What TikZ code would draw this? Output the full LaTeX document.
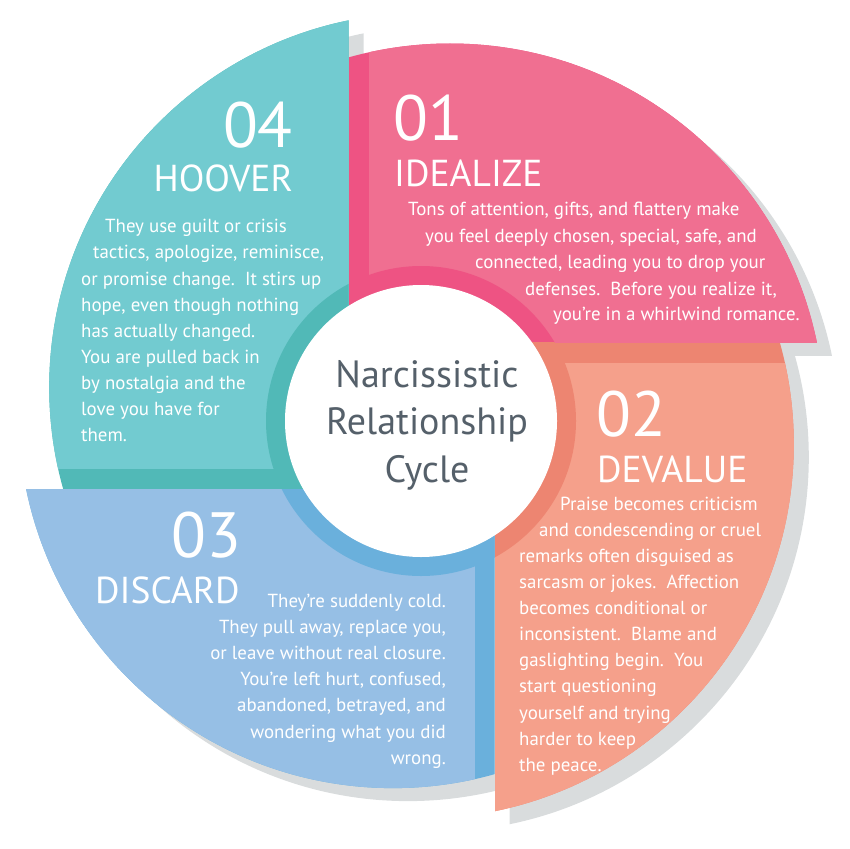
\documentclass[tikz,border=0pt]{standalone}
\usepackage{fontspec}
\setmainfont{PT Sans}
\usepackage{tikz}
\usepackage{color}
\usetikzlibrary{calc,positioning}

\definecolor{pinkL}{RGB}{240,111,145}
\definecolor{pinkD}{RGB}{238,83,131}
\definecolor{salL}{RGB}{245,160,139}
\definecolor{salD}{RGB}{237,133,113}
\definecolor{bluL}{RGB}{150,191,229}
\definecolor{bluD}{RGB}{106,176,220}
\definecolor{teaL}{RGB}{114,203,208}
\definecolor{teaD}{RGB}{81,185,183}
\definecolor{shad}{RGB}{217,220,221}
\definecolor{hub}{RGB}{85,96,106}

\begin{document}
\begin{tikzpicture}[x=1pt,y=-1pt]
		\tikzstyle{body}=[text=white, font=\fontsize{18.9}{22}\selectfont, inner sep=0pt, anchor=base west]
		\tikzstyle{bodyr}=[body, anchor=base east]
		\tikzstyle{num}=[text=white, font=\fontsize{64}{64}\selectfont, inner sep=0pt, anchor=base west]
		\tikzstyle{tit}=[text=white, font=\fontsize{37.5}{40}\selectfont, inner sep=0pt, anchor=base west]
		\tikzstyle{hubtxt}=[text=hub, font=\fontsize{38}{47.5}\selectfont, align=center, inner sep=0pt]

		\useasboundingbox (0,0) rectangle (850,848);
		\coordinate (C) at (421.5,415.8);
		\coordinate (W) at (421,421);

		% shadows
		\begin{scope}[shift={(15,13)}]
			\begin{scope}[rotate around={0:(421.5,415.8)}]
				\clip (348.5,342.8) rectangle (948.5,-257);
				\fill[shad] (450,418) circle (374.5);
			\end{scope}
			\begin{scope}[rotate around={-90:(421.5,415.8)}]
				\clip (348.5,342.8) rectangle (948.5,-257);
				\fill[shad] (450,418) circle (374.5);
			\end{scope}
			\begin{scope}[rotate around={-180:(421.5,415.8)}]
				\clip (348.5,342.8) rectangle (948.5,-257);
				\fill[shad] (450,418) circle (374.5);
			\end{scope}
			\begin{scope}[rotate around={-270:(421.5,415.8)}]
				\clip (348.5,342.8) rectangle (948.5,-257);
				\fill[shad] (450,418) circle (374.5);
			\end{scope}
		\end{scope}

		% 01 idealize
		\begin{scope}[rotate around={0:(C)}]
			\clip (348.5,342.8) rectangle (948.5,-257);
			\clip (450,418) circle (374.5);
			\fill[pinkD] (348.5,342.8) rectangle (948.5,-257);
			\fill[pinkL] (368.5,342.8) rectangle (948.5,-257);
			\fill[pinkD] (W) circle (155);
		\end{scope}
		% 02 devalue
		\begin{scope}[rotate around={-90:(C)}]
			\clip (348.5,342.8) rectangle (948.5,-257);
			\clip (450,418) circle (374.5);
			\fill[salD] (348.5,342.8) rectangle (948.5,-257);
			\fill[salL] (368.5,342.8) rectangle (948.5,-257);
			\fill[salD] (W) circle (155);
		\end{scope}
		% 03 discard
		\begin{scope}[rotate around={-180:(C)}]
			\clip (348.5,342.8) rectangle (948.5,-257);
			\clip (450,418) circle (374.5);
			\fill[bluD] (348.5,342.8) rectangle (948.5,-257);
			\fill[bluL] (368.5,342.8) rectangle (948.5,-257);
			\fill[bluD] (W) circle (155);
		\end{scope}
		% 04 hoover
		\begin{scope}[rotate around={-270:(C)}]
			\clip (348.5,342.8) rectangle (948.5,-257);
			\clip (450,418) circle (374.5);
			\fill[teaD] (348.5,342.8) rectangle (948.5,-257);
			\fill[teaL] (368.5,342.8) rectangle (948.5,-257);
			\fill[teaD] (W) circle (155);
		\end{scope}

		\fill[white] (W) circle (136);
		\node[hubtxt] (hub) at (427,425) {Narcissistic\\Relationship\\Cycle};

		% 01
		\node[num] (N1) at (393,140) {01};
		\node[tit] (T1) at (394,186) {IDEALIZE};
		\node[body] (p1) at (408,215) {Tons of attention, gifts, and flattery make};
		\node[body] (p2) at (425,242) {you feel deeply chosen, special, safe, and};
		\node[body] (p3) at (475,268) {connected, leading you to drop your};
		\node[body] (p4) at (525,295) {defenses.\ \ Before you realize it,};
		\node[body] (p5) at (553,320) {you’re in a whirlwind romance.};

		% 02
		\node[num] (N2) at (596,436) {02};
		\node[tit] (T2) at (597,482) {DEVALUE};
		\node[body] (s1) at (560,510) {Praise becomes criticism};
		\node[body] (s2) at (539,536) {and condescending or cruel};
		\node[body] (s3) at (519,562) {remarks often disguised as};
		\node[body] (s4) at (519,588) {sarcasm or jokes.\ \ Affection};
		\node[body] (s5) at (519,614) {becomes conditional or};
		\node[body] (s6) at (519,640) {inconsistent.\ \ Blame and};
		\node[body] (s7) at (519,666) {gaslighting begin.\ \ You};
		\node[body] (s8) at (519,692) {start questioning};
		\node[body] (s9) at (519,719) {yourself and trying};
		\node[body] (s10) at (519,745) {harder to keep};
		\node[body] (s11) at (519,771) {the peace.};

		% 03
		\node[num] (N3) at (171,557) {03};
		\node[tit] (T3) at (95,603) {DISCARD};
		\node[bodyr] (b1) at (446,607) {They’re suddenly cold.};
		\node[bodyr] (b2) at (446,633) {They pull away, replace you,};
		\node[bodyr] (b3) at (446,659) {or leave without real closure.};
		\node[bodyr] (b4) at (446,685) {You’re left hurt, confused,};
		\node[bodyr] (b5) at (446,711) {abandoned, betrayed, and};
		\node[bodyr] (b6) at (446,738) {wondering what you did};
		\node[bodyr] (b7) at (446,764) {wrong.};

		% 04
		\node[num, anchor=base east] (N4) at (293,147) {04};
		\node[tit, anchor=base east] (T4) at (293,191) {HOOVER};
		\node[body] (t1) at (105,232) {They use guilt or crisis};
		\node[body] (t2) at (93,258) {tactics, apologize, reminisce,};
		\node[body] (t3) at (81,285) {or promise change.\ \ It stirs up};
		\node[body] (t4) at (81,311) {hope, even though nothing};
		\node[body] (t5) at (81,337) {has actually changed.};
		\node[body] (t6) at (81,363) {You are pulled back in};
		\node[body] (t7) at (81,389) {by nostalgia and the};
		\node[body] (t8) at (81,415) {love you have for};
		\node[body] (t9) at (81,441) {them.};
\end{tikzpicture}
\end{document}
